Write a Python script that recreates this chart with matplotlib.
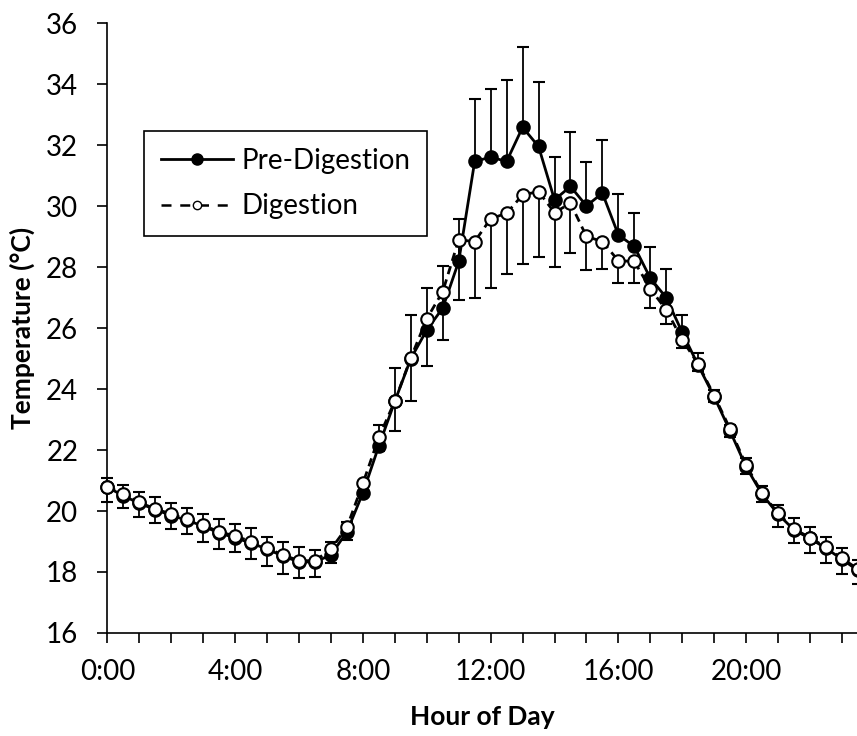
import numpy as np
import matplotlib
matplotlib.use("Agg")
import matplotlib.pyplot as plt
from matplotlib.lines import Line2D

# half-hour bins over the day
hours = np.arange(0, 24, 0.5)
tick_hours = np.arange(0, 24, 1)
tick_labels = ["0:00", "4:00", "8:00", "12:00", "16:00", "20:00"]

pre = [20.78, 20.50, 20.25, 20.05, 19.85, 19.70, 19.50, 19.28, 19.12, 18.95,
       18.75, 18.52, 18.33, 18.33, 18.56, 19.32, 20.60, 22.14, 23.60, 25.00,
       25.94, 26.66, 28.19, 31.47, 31.61, 31.47, 32.59, 31.96, 30.21, 30.65,
       30.01, 30.43, 29.06, 28.68, 27.64, 27.00, 25.86, 24.78, 23.75, 22.62,
       21.45, 20.55, 19.90, 19.38, 19.10, 18.78, 18.42, 18.05]
pre_err = [0.32, 0.36, 0.36, 0.42, 0.41, 0.39, 0.40, 0.46, 0.46, 0.49,
           0.41, 0.47, 0.48, 0.39, 0.41, 0.33, 0.35, 0.69, 1.09, 1.44,
           1.37, 1.38, 1.39, 2.04, 2.25, 2.66, 2.64, 2.10, 1.42, 1.77,
           1.44, 1.75, 1.35, 1.09, 1.01, 0.94, 0.58, 0.42, 0.22, 0.21,
           0.28, 0.27, 0.30, 0.38, 0.39, 0.36, 0.36, 0.35]

dig = [20.80, 20.56, 20.28, 20.07, 19.90, 19.74, 19.53, 19.32, 19.18, 19.00,
       18.78, 18.56, 18.37, 18.37, 18.75, 19.47, 20.91, 22.42, 23.61, 25.02,
       26.31, 27.20, 28.90, 28.84, 29.59, 29.77, 30.37, 30.48, 29.79, 30.10,
       29.01, 28.84, 28.21, 28.19, 27.29, 26.60, 25.62, 24.82, 23.79, 22.69,
       21.51, 20.58, 19.93, 19.41, 19.13, 18.81, 18.45, 18.10]
dig_err = [0.50, 0.47, 0.46, 0.47, 0.50, 0.49, 0.53, 0.57, 0.51, 0.59,
           0.57, 0.61, 0.57, 0.54, 0.47, 0.42, 0.35, 0.45, 0.98, 1.41,
           1.54, 1.58, 1.97, 1.84, 2.26, 2.00, 2.27, 2.13, 1.79, 1.62,
           1.10, 0.90, 0.73, 0.71, 0.63, 0.46, 0.28, 0.22, 0.20, 0.27,
           0.29, 0.27, 0.44, 0.47, 0.51, 0.52, 0.51, 0.50]

pre = np.array(pre)
dig = np.array(dig)
pre_top = pre + np.array(pre_err)
dig_bot = dig - np.array(dig_err)

plt.rcParams["font.family"] = ["Lato", "DejaVu Sans"]

fig = plt.figure(figsize=(8.57, 7.36), dpi=100)
ax = fig.add_axes([0.1254, 0.14, 0.8756, 0.8283])

# error bars: pre-digestion up only, digestion down only (excel style)
ax.vlines(hours, pre, pre_top, color="black", lw=1.3, zorder=1, clip_on=False)
ax.plot(hours, pre_top, ls="none", marker="_", ms=9, mew=1.5, color="black",
        zorder=1, clip_on=False)
ax.vlines(hours, dig_bot, dig, color="black", lw=1.3, zorder=1, clip_on=False)
ax.plot(hours, dig_bot, ls="none", marker="_", ms=9, mew=1.5, color="black",
        zorder=1, clip_on=False)

ax.plot(hours, pre, color="black", lw=2.0, marker="o", ms=9, mfc="black",
        mec="black", mew=1.5, zorder=3, clip_on=False)
ax.plot(hours, dig, color="black", lw=2.0, ls=(0, (3, 2)), marker="o", ms=9,
        mfc="white", mec="black", mew=1.5, zorder=4, clip_on=False)

ax.set_xlim(0, 23.5)
ax.set_ylim(16, 36)
ax.set_yticks(np.arange(16, 37, 2))
ax.set_xticks(tick_hours)
ax.set_xticklabels([tick_labels[i // 4] if i % 4 == 0 else "" for i in range(len(tick_hours))])

for side in ["top", "right"]:
    ax.spines[side].set_visible(False)
for side in ["left", "bottom"]:
    ax.spines[side].set_linewidth(1.2)
ax.tick_params(axis="both", direction="out", length=7, width=1.2, labelsize=20)
ax.tick_params(axis="y", pad=14)
ax.tick_params(axis="x", pad=12)

ax.set_xlabel("Hour of Day", fontsize=19, fontweight="bold", labelpad=14)
ax.set_ylabel("Temperature (°C)", fontsize=19, fontweight="bold", labelpad=8)

handles = [
    Line2D([], [], color="black", lw=2.0, marker="o", ms=8, mfc="black", mec="black"),
    Line2D([], [], color="black", lw=1.8, ls=(0, (4, 3.5)), marker="o", ms=6,
           mfc="white", mec="black"),
]
leg = ax.legend(handles, ["Pre-Digestion", "Digestion"], loc="upper left",
                bbox_to_anchor=(0.0486, 0.823), borderaxespad=0, fontsize=20,
                frameon=True, fancybox=False, framealpha=1, edgecolor="black",
                handlelength=2.6, handletextpad=0.3, borderpad=0.6,
                labelspacing=0.7)
leg.get_frame().set_linewidth(1.2)

fig.savefig("out.png", dpi=100)
